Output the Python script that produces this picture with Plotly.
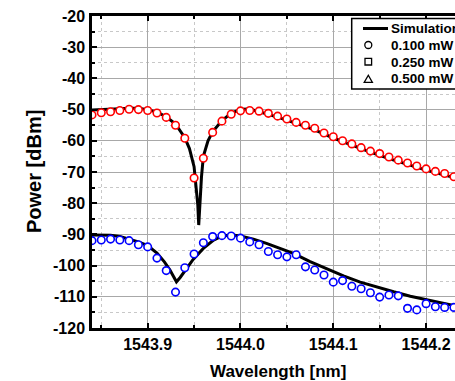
import plotly.graph_objects as go

# ---------------- data ----------------
wl_meas = [1543.84, 1543.85, 1543.86, 1543.87, 1543.88, 1543.89, 1543.90, 1543.91,
           1543.92, 1543.93, 1543.94, 1543.95, 1543.96, 1543.97, 1543.98, 1543.99,
           1544.00, 1544.01, 1544.02, 1544.03, 1544.04, 1544.05, 1544.06, 1544.07,
           1544.08, 1544.09, 1544.10, 1544.11, 1544.12, 1544.13, 1544.14, 1544.15,
           1544.16, 1544.17, 1544.18, 1544.19, 1544.20, 1544.21, 1544.22, 1544.23]

p_red = [-51.7, -51.0, -50.7, -50.3, -49.9, -50.0, -50.3, -51.1, -52.5, -55.0,
         -59.2, -71.9, -65.6, -57.3, -53.7, -51.5, -50.4, -50.3, -50.5, -51.2,
         -52.1, -53.0, -54.1, -55.0, -56.0, -57.5, -58.7, -60.0, -61.0, -62.2,
         -63.3, -64.1, -65.2, -66.2, -67.1, -68.1, -69.0, -69.8, -70.5, -71.5]

p_blue = [-92.0, -91.8, -91.5, -91.8, -92.0, -93.3, -94.0, -97.6, -101.6, -108.5,
          -100.7, -96.3, -92.7, -90.7, -90.4, -90.5, -91.2, -92.4, -93.3, -95.5,
          -96.5, -97.2, -96.5, -100.4, -101.4, -103.0, -105.3, -104.8, -106.6, -107.4,
          -108.7, -110.1, -109.4, -109.7, -113.7, -114.2, -112.2, -113.2, -113.4, -113.4]

wl_sim_hi = [1543.840, 1543.850, 1543.860, 1543.870, 1543.880, 1543.890, 1543.900,
             1543.910, 1543.920, 1543.930, 1543.940, 1543.945, 1543.950, 1543.9527,
             1543.954, 1543.955, 1543.956, 1543.958, 1543.960, 1543.965, 1543.970,
             1543.980, 1543.990, 1544.000, 1544.010, 1544.020, 1544.040, 1544.060,
             1544.080, 1544.100, 1544.120, 1544.140, 1544.160, 1544.180, 1544.200,
             1544.220, 1544.240]
p_sim_hi = [-50.1, -49.9, -49.8, -49.7, -49.6, -49.6, -50.0,
            -50.8, -52.3, -54.6, -59.0, -62.5, -68.3, -75.8,
            -80.5, -87.0, -80.0, -71.5, -65.0, -60.0, -57.1,
            -53.5, -51.2, -49.9, -49.8, -50.6, -52.4, -54.4,
            -56.5, -59.1, -61.4, -63.6, -65.7, -67.6, -69.4,
            -71.0, -72.5]

wl_sim_lo = [1543.840, 1543.860, 1543.870, 1543.880, 1543.890, 1543.900, 1543.910,
             1543.918, 1543.924, 1543.928, 1543.931, 1543.935, 1543.940, 1543.949,
             1543.960, 1543.971, 1543.981, 1543.991, 1544.000, 1544.014, 1544.028,
             1544.043, 1544.057, 1544.075, 1544.093, 1544.111, 1544.129, 1544.147,
             1544.165, 1544.183, 1544.201, 1544.220, 1544.240]
p_sim_lo = [-90.2, -90.3, -90.7, -91.5, -92.4, -93.6, -96.0,
            -98.8, -101.4, -103.6, -105.2, -103.8, -101.6, -98.0,
            -94.5, -91.8, -90.4, -90.2, -90.5, -91.5, -92.9,
            -94.5, -96.1, -98.7, -101.1, -103.3, -105.3, -106.9,
            -108.4, -109.8, -111.0, -112.2, -113.4]

x_tickvals = [1543.9, 1544.0, 1544.1, 1544.2]
x_ticktext = ["1543.9", "1544.0", "1544.1", "1544.2"]
y_tickvals = [-20, -30, -40, -50, -60, -70, -80, -90, -100, -110, -120]
y_ticktext = ["-20", "-30", "-40", "-50", "-60", "-70", "-80", "-90", "-100", "-110", "-120"]

legend_labels = ["Simulation", "0.100 mW", "0.250 mW", "0.500 mW"]

# ---------------- figure ----------------
W, H = 455, 381
ML, MR, MT, MB = 92, 0, 16, 53
PW, PH = W - ML - MR, H - MT - MB


def xp(px):
    return (px - ML) / PW


def yp(py):
    return 1 - (py - MT) / PH


FONT = "Liberation Sans, Arial, sans-serif"

fig = go.Figure()
for xs, ys in [(wl_sim_hi, p_sim_hi), (wl_sim_lo, p_sim_lo)]:
    fig.add_trace(go.Scatter(x=xs, y=ys, mode="lines",
                             line=dict(color="black", width=3),
                             showlegend=False, hoverinfo="skip"))
for ys, col in [(p_red, "#ff0000"), (p_blue, "#0000ff")]:
    fig.add_trace(go.Scatter(x=wl_meas, y=ys, mode="markers",
                             marker=dict(symbol="circle", size=7.5, color="white",
                                         line=dict(color=col, width=1.6)),
                             showlegend=False))

axis_common = dict(
    showline=True, linecolor="black", linewidth=2.5,
    ticks="inside", ticklen=5, tickwidth=2, tickcolor="black",
    showgrid=True, gridcolor="#a8a8a8", gridwidth=1.2,
    zeroline=False,
    tickfont=dict(family=FONT, size=16, color="black", weight="bold"),
)

fig.update_xaxes(
    range=[1543.84, 1543.84 + PW / 928.0],
    tickmode="array", tickvals=x_tickvals, ticktext=x_ticktext,
    mirror="ticks", ticklabelstandoff=0,
    minor=dict(tick0=1543.85, dtick=0.05, ticks="inside", ticklen=3, tickwidth=1.5,
               tickcolor="black", showgrid=True, griddash="dot",
               gridcolor="#c8c8c8", gridwidth=1),
    **axis_common)
fig.update_yaxes(
    range=[-120, -20],
    tickmode="array", tickvals=y_tickvals, ticktext=y_ticktext,
    mirror=False, ticklabelstandoff=1,
    minor=dict(tick0=-25, dtick=5, ticks="inside", ticklen=3, tickwidth=1.5,
               tickcolor="black", showgrid=True, griddash="dot",
               gridcolor="#c8c8c8", gridwidth=1),
    **axis_common)

shapes = []
# legend box
shapes.append(dict(type="rect", xref="paper", yref="paper",
                   x0=xp(351.7), x1=xp(480), y0=yp(89), y1=yp(18.5),
                   line=dict(color="black", width=1.5), fillcolor="white", layer="above"))
# legend symbols
shapes.append(dict(type="line", xref="paper", yref="paper",
                   x0=xp(363), x1=xp(388), y0=yp(28.5), y1=yp(28.5),
                   line=dict(color="black", width=3)))
shapes.append(dict(type="circle", xref="paper", yref="paper",
                   x0=xp(364.8), x1=xp(371.8), y0=yp(48.5), y1=yp(41.5),
                   line=dict(color="black", width=1.3)))
shapes.append(dict(type="rect", xref="paper", yref="paper",
                   x0=xp(365), x1=xp(371.6), y0=yp(65), y1=yp(58.4),
                   line=dict(color="black", width=1.3)))
shapes.append(dict(type="path", xref="paper", yref="paper",
                   path="M {:.5f} {:.5f} L {:.5f} {:.5f} L {:.5f} {:.5f} Z".format(
                       xp(368.3), yp(75.2), xp(364.2), yp(82.4), xp(372.4), yp(82.4)),
                   line=dict(color="black", width=1.3)))

annotations = []
for lab, cy in zip(legend_labels, [29, 45.5, 62, 79]):
    annotations.append(dict(xref="paper", yref="paper", x=xp(389), y=yp(cy),
                            xanchor="left", yanchor="middle", showarrow=False,
                            text=lab, font=dict(family=FONT, size=13.5, color="black",
                                                weight="bold")))
annotations.append(dict(xref="paper", yref="paper", x=xp(277.5), y=yp(371),
                        xanchor="center", yanchor="middle", showarrow=False,
                        text="Wavelength [nm]",
                        font=dict(family=FONT, size=17, color="black", weight="bold")))
annotations.append(dict(xref="paper", yref="paper", x=xp(33.5), y=yp(171.5),
                        xanchor="center", yanchor="middle", showarrow=False,
                        textangle=-90, text="Power [dBm]",
                        font=dict(family=FONT, size=20, color="black", weight="bold")))

fig.update_layout(
    width=W, height=H,
    margin=dict(l=ML, r=MR, t=MT, b=MB, pad=0),
    paper_bgcolor="white", plot_bgcolor="white",
    showlegend=False,
    shapes=shapes, annotations=annotations,
)

fig.write_html("out.html",
               config={"displayModeBar": False},
               post_script="document.body.style.margin='0';"
                           "document.body.style.overflow='hidden';")
